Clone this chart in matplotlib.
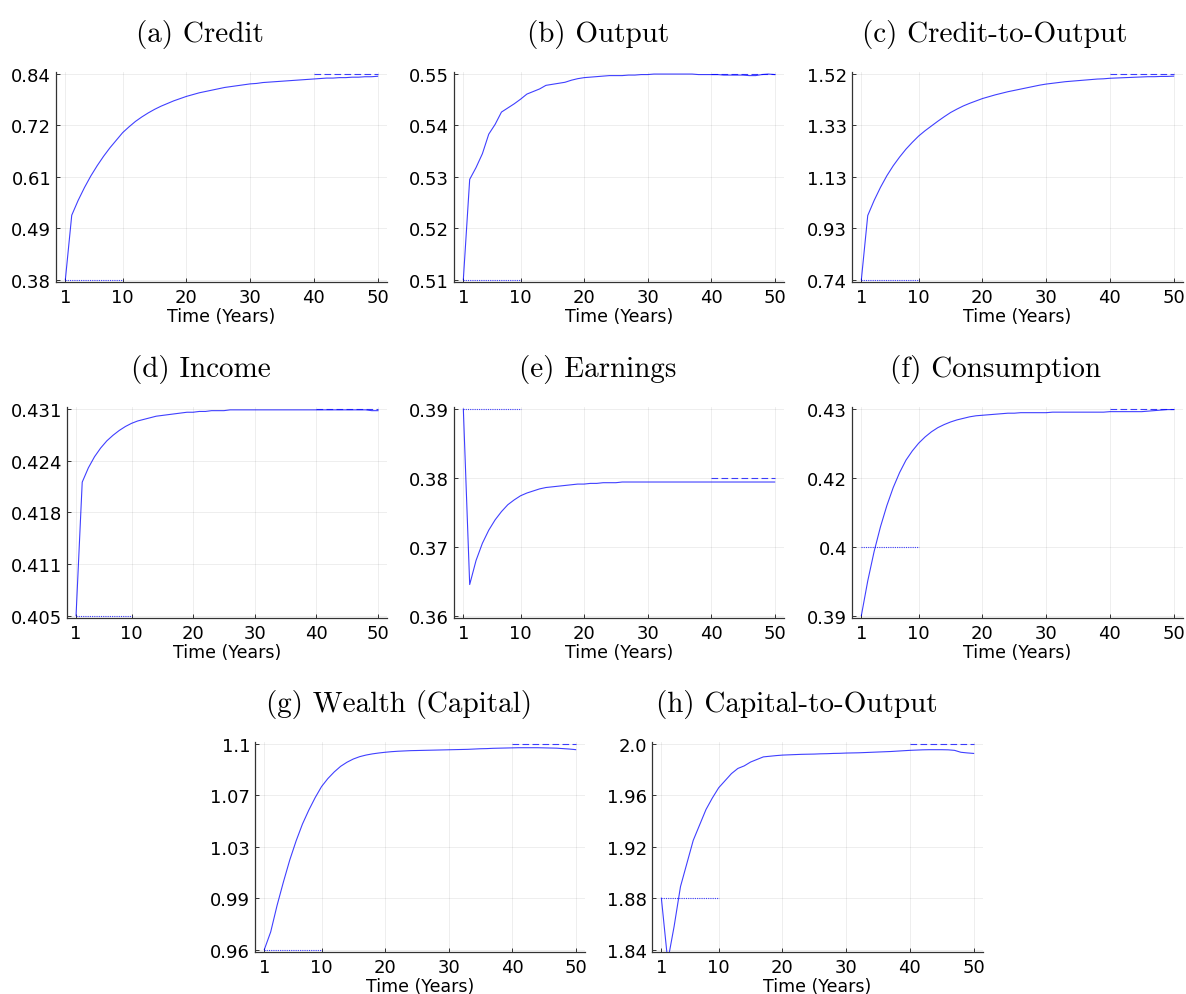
import numpy as np
import matplotlib
matplotlib.use("Agg")
import matplotlib.pyplot as plt

plt.rcParams["font.family"] = ["DejaVu Sans"]

years = list(range(1, 51))

credit = [0.380, 0.524, 0.557, 0.586, 0.612, 0.635, 0.656, 0.675, 0.692, 0.709,
          0.722, 0.734, 0.744, 0.753, 0.761, 0.768, 0.774, 0.780, 0.785, 0.790,
          0.794, 0.798, 0.801, 0.804, 0.807, 0.810, 0.812, 0.814, 0.816, 0.818,
          0.819, 0.821, 0.822, 0.823, 0.824, 0.825, 0.826, 0.827, 0.828, 0.829,
          0.830, 0.831, 0.831, 0.832, 0.832, 0.833, 0.833, 0.834, 0.834, 0.835]

output = [0.5100, 0.5295, 0.5318, 0.5345, 0.5383, 0.5402, 0.5426, 0.5434, 0.5442, 0.5451,
          0.5461, 0.5466, 0.5471, 0.5478, 0.5480, 0.5482, 0.5484, 0.5488, 0.5491, 0.5493,
          0.5494, 0.5495, 0.5496, 0.5497, 0.5497, 0.5497, 0.5498, 0.5498, 0.5499, 0.5499,
          0.5500, 0.5500, 0.5500, 0.5500, 0.5500, 0.5500, 0.5500, 0.5499, 0.5499, 0.5499,
          0.5499, 0.5498, 0.5498, 0.5498, 0.5498, 0.5497, 0.5497, 0.5499, 0.5500, 0.5499]

credit_to_output = [0.740, 0.983, 1.040, 1.090, 1.134, 1.172, 1.205, 1.235, 1.261, 1.285,
                    1.305, 1.323, 1.341, 1.358, 1.374, 1.387, 1.399, 1.409, 1.418, 1.427,
                    1.434, 1.441, 1.447, 1.453, 1.458, 1.463, 1.468, 1.473, 1.478, 1.482,
                    1.485, 1.488, 1.491, 1.493, 1.495, 1.497, 1.499, 1.501, 1.502, 1.504,
                    1.505, 1.506, 1.507, 1.508, 1.509, 1.510, 1.510, 1.511, 1.511, 1.512]

income = [0.4050, 0.4218, 0.4236, 0.4250, 0.4261, 0.4270, 0.4277, 0.4283, 0.4288, 0.4292,
          0.4295, 0.4297, 0.4299, 0.4301, 0.4302, 0.4303, 0.4304, 0.4305, 0.4306, 0.4306,
          0.4307, 0.4307, 0.4308, 0.4308, 0.4308, 0.4309, 0.4309, 0.4309, 0.4309, 0.4309,
          0.4309, 0.4309, 0.4309, 0.4309, 0.4309, 0.4309, 0.4309, 0.4309, 0.4309, 0.4309,
          0.4309, 0.4309, 0.4309, 0.4309, 0.4309, 0.4309, 0.4309, 0.4309, 0.4308, 0.4308]

earnings = [0.3900, 0.3645, 0.3680, 0.3705, 0.3724, 0.3739, 0.3751, 0.3761, 0.3768, 0.3774,
            0.3778, 0.3781, 0.3784, 0.3786, 0.3787, 0.3788, 0.3789, 0.3790, 0.3791, 0.3791,
            0.3792, 0.3792, 0.3793, 0.3793, 0.3793, 0.3794, 0.3794, 0.3794, 0.3794, 0.3794,
            0.3794, 0.3794, 0.3794, 0.3794, 0.3794, 0.3794, 0.3794, 0.3794, 0.3794, 0.3794,
            0.3794, 0.3794, 0.3794, 0.3794, 0.3794, 0.3794, 0.3794, 0.3794, 0.3794, 0.3794]

consumption = [0.3900, 0.3967, 0.4024, 0.4072, 0.4113, 0.4148, 0.4177, 0.4201, 0.4219, 0.4234,
               0.4246, 0.4256, 0.4264, 0.4270, 0.4275, 0.4279, 0.4282, 0.4285, 0.4287, 0.4288,
               0.4289, 0.4290, 0.4291, 0.4292, 0.4292, 0.4293, 0.4293, 0.4293, 0.4293, 0.4293,
               0.4294, 0.4294, 0.4294, 0.4294, 0.4294, 0.4294, 0.4294, 0.4294, 0.4294, 0.4295,
               0.4295, 0.4295, 0.4295, 0.4295, 0.4295, 0.4296, 0.4297, 0.4298, 0.4299, 0.4299]

wealth = [0.9600, 0.9720, 0.9900, 1.0060, 1.0210, 1.0340, 1.0455, 1.0550, 1.0635, 1.0710,
          1.0765, 1.0810, 1.0848, 1.0876, 1.0898, 1.0914, 1.0925, 1.0933, 1.0939, 1.0944,
          1.0948, 1.0951, 1.0953, 1.0955, 1.0956, 1.0957, 1.0958, 1.0959, 1.0960, 1.0961,
          1.0962, 1.0963, 1.0964, 1.0966, 1.0968, 1.0969, 1.0971, 1.0972, 1.0973, 1.0974,
          1.0975, 1.0975, 1.0975, 1.0975, 1.0974, 1.0973, 1.0972, 1.0969, 1.0966, 1.0962]

capital_to_output = [1.880, 1.831, 1.858, 1.889, 1.907, 1.925, 1.937, 1.949, 1.958, 1.966,
                     1.9715, 1.977, 1.981, 1.983, 1.986, 1.988, 1.990, 1.9905, 1.991, 1.9914,
                     1.9916, 1.9918, 1.9920, 1.9921, 1.9922, 1.9924, 1.9925, 1.9927, 1.9928, 1.9930,
                     1.9931, 1.9932, 1.9934, 1.9936, 1.9938, 1.9940, 1.9942, 1.9945, 1.9948, 1.9951,
                     1.9953, 1.9955, 1.9956, 1.9956, 1.9956, 1.9955, 1.9951, 1.9936, 1.9931, 1.9927]

titles = ["(a) Credit", "(b) Output", "(c) Credit-to-Output", "(d) Income",
          "(e) Earnings", "(f) Consumption", "(g) Wealth (Capital)", "(h) Capital-to-Output"]
series = [credit, output, credit_to_output, income, earnings, consumption, wealth, capital_to_output]
initial_ss = [0.38, 0.51, 0.74, 0.405, 0.39, 0.4033, 0.96, 1.88]
final_ss = [0.84, 0.55, 1.52, 0.431, 0.38, 0.43, 1.10, 2.00]
y_lo = [0.38, 0.51, 0.74, 0.405, 0.36, 0.39, 0.96, 1.84]
y_hi = [0.84, 0.55, 1.52, 0.431, 0.39, 0.43, 1.10, 2.00]
ytick_labels = [["0.38", "0.49", "0.61", "0.72", "0.84"],
                ["0.51", "0.52", "0.53", "0.54", "0.55"],
                ["0.74", "0.93", "1.13", "1.33", "1.52"],
                ["0.405", "0.411", "0.418", "0.424", "0.431"],
                ["0.36", "0.37", "0.38", "0.39"],
                ["0.39", "0.4", "0.42", "0.43"],
                ["0.96", "0.99", "1.03", "1.07", "1.1"],
                ["1.84", "1.88", "1.92", "1.96", "2.0"]]
xticks = [1, 10, 20, 30, 40, 50]
xlabel = "Time (Years)"

W, H = 1186, 995
# axes boxes in pixels: left, top, right, bottom
boxes = [(56, 73, 387, 283), (454, 73, 784, 283), (852, 73, 1183, 283),
         (67, 408, 387, 619), (454, 408, 784, 619), (852, 408, 1183, 619),
         (255, 743, 585, 953), (652, 743, 983, 953)]
# title centres (pixels), centred over each subplot cell
title_cx = [200, 598, 995, 201, 598, 995, 399, 797]

fig = plt.figure(figsize=(W / 100, H / 100), dpi=100)
fig.patch.set_facecolor("white")

for i in range(8):
    l, t, r, b = boxes[i]
    ax = fig.add_axes([l / W, (H - b) / H, (r - l) / W, (b - t) / H])
    y = series[i]
    ax.plot(years, y, color="blue", lw=0.8, alpha=0.75, zorder=3)
    ax.plot([years[0], 10], [initial_ss[i]] * 2, color="blue", lw=0.8,
            linestyle=(0, (1, 1)), alpha=0.75, zorder=3)
    ax.plot([40, years[-1]], [final_ss[i]] * 2, color="blue", lw=0.8,
            linestyle=(0, (6, 3)), alpha=0.75, zorder=3)

    nt = len(ytick_labels[i])
    yt = np.linspace(y_lo[i], y_hi[i], nt)
    ax.set_yticks(yt)
    ax.set_yticklabels(ytick_labels[i])
    ax.set_xticks(xticks)
    rng = y_hi[i] - y_lo[i]
    ax.set_ylim(y_lo[i] - 0.012 * rng, y_hi[i] + 0.01 * rng)
    ax.set_xlim(1 - 1.47, 50 + 1.47)

    ax.grid(True, color="#000000", alpha=0.08, lw=0.6)
    ax.set_axisbelow(True)
    for s in ["top", "right"]:
        ax.spines[s].set_visible(False)
    for s in ["left", "bottom"]:
        ax.spines[s].set_color("#333333")
        ax.spines[s].set_linewidth(0.9)
    ax.tick_params(direction="in", length=3, width=0.7, color="#333333",
                   labelsize=13, labelcolor="black")
    ax.tick_params(axis="x", pad=4.5)
    ax.tick_params(axis="y", pad=3.5)
    ax.set_xlabel(xlabel, fontsize=12.5, labelpad=0.5)
    ax.set_title(titles[i], fontfamily="cmr10", fontsize=21, pad=22,
                 x=(title_cx[i] - l) / (r - l))

fig.savefig("out.png", dpi=100, facecolor="white")
